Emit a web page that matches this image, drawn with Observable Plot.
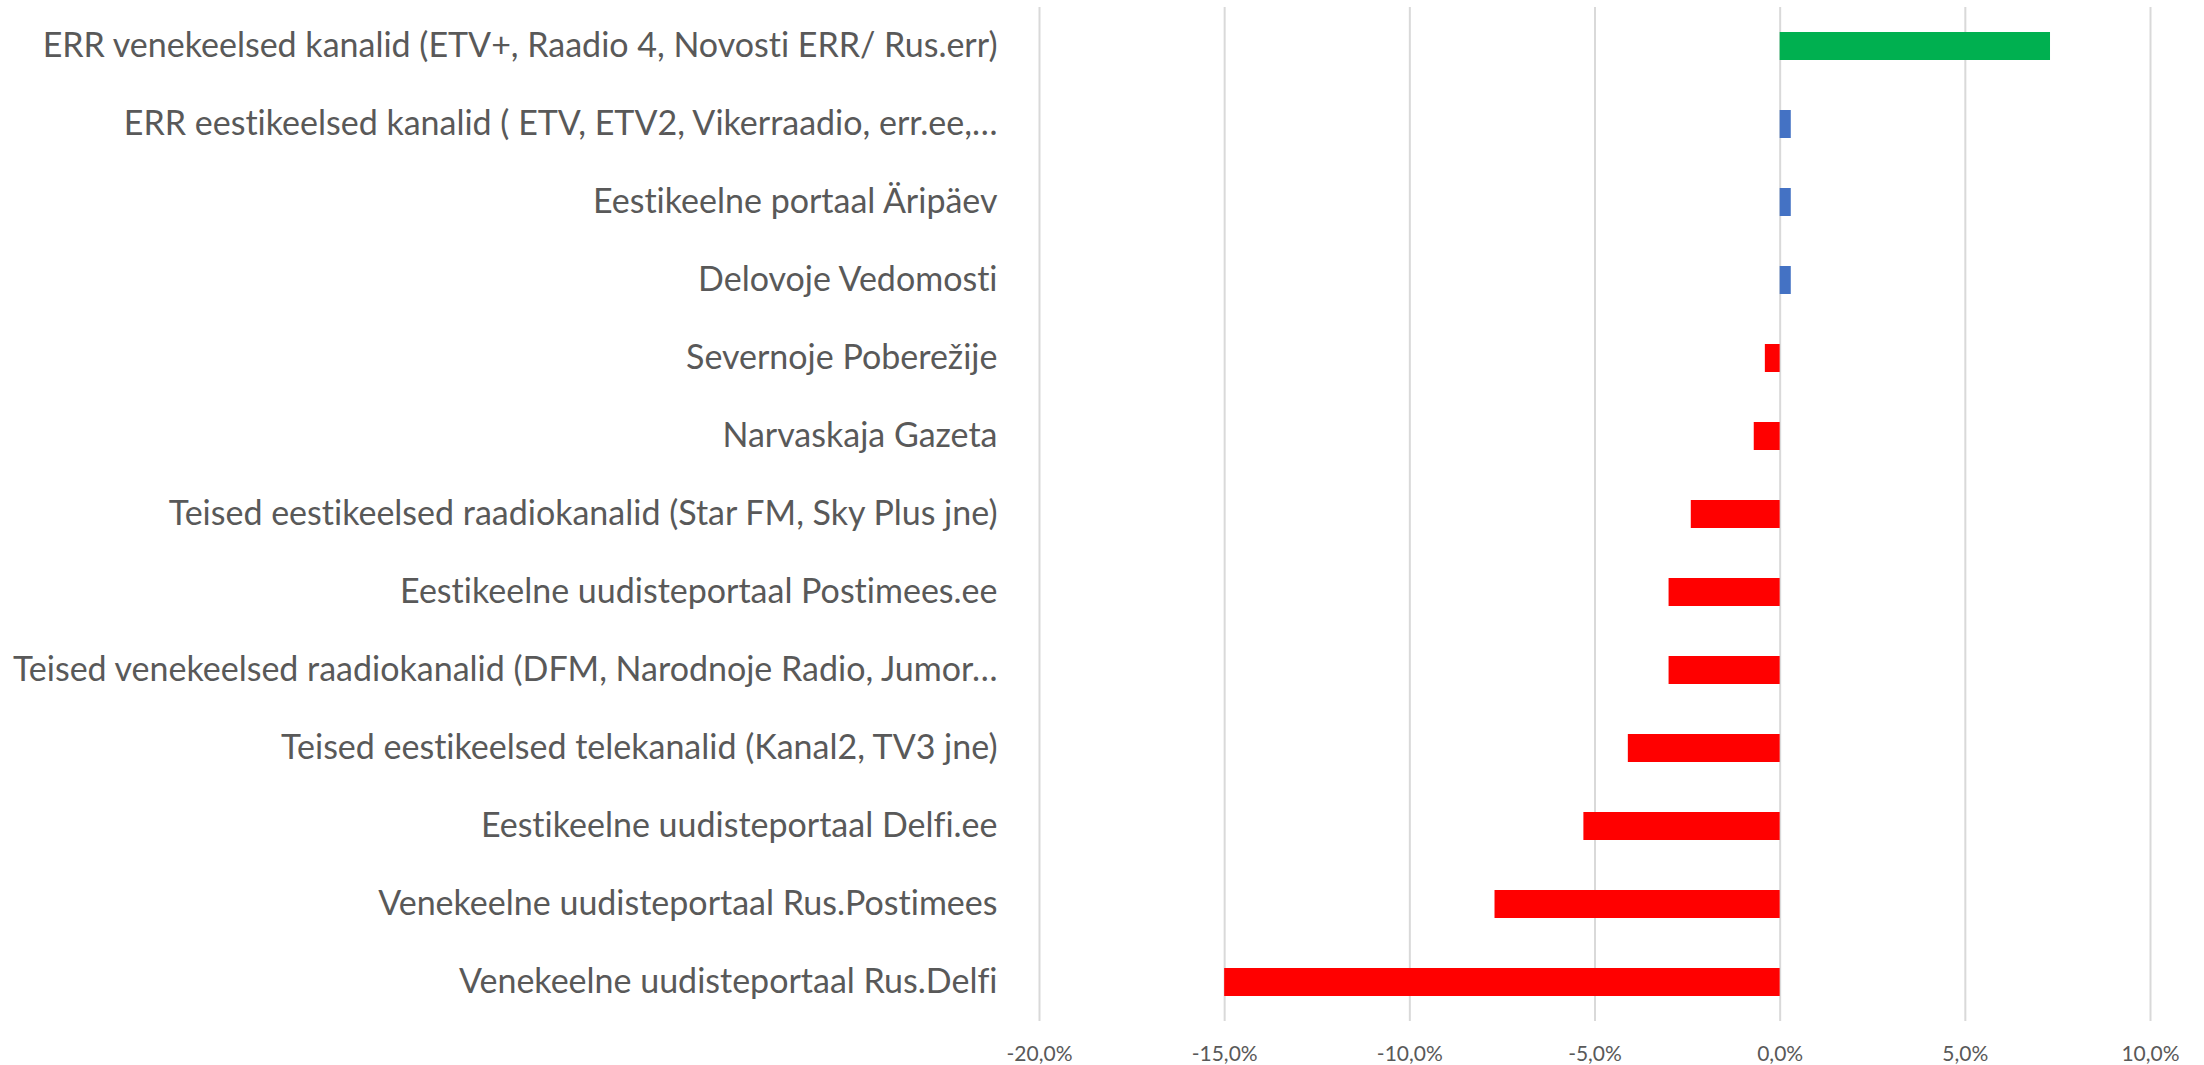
<!DOCTYPE html>
<html>
<head>
<meta charset="utf-8">
<script src="https://cdn.jsdelivr.net/npm/d3@7"></script>
<script src="https://cdn.jsdelivr.net/npm/@observablehq/plot@0.6"></script>
<style>
  html, body { margin: 0; padding: 0; background: #ffffff; }
  #chart svg { display: block; }
  #chart svg text { font-variant-ligatures: none; font-feature-settings: "liga" 0; }
</style>
</head>
<body>
<div id="chart"></div>
<script>
const categories = [
  "ERR venekeelsed kanalid (ETV+, Raadio 4, Novosti ERR/ Rus.err)",
  "ERR eestikeelsed kanalid ( ETV, ETV2, Vikerraadio, err.ee,…",
  "Eestikeelne portaal Äripäev",
  "Delovoje Vedomosti",
  "Severnoje Poberežije",
  "Narvaskaja Gazeta",
  "Teised eestikeelsed raadiokanalid (Star FM, Sky Plus jne)",
  "Eestikeelne uudisteportaal Postimees.ee",
  "Teised venekeelsed raadiokanalid (DFM, Narodnoje Radio, Jumor…",
  "Teised eestikeelsed telekanalid (Kanal2, TV3 jne)",
  "Eestikeelne uudisteportaal Delfi.ee",
  "Venekeelne uudisteportaal Rus.Postimees",
  "Venekeelne uudisteportaal Rus.Delfi"
];
const values = [7.3, 0.3, 0.3, 0.3, -0.4, -0.7, -2.4, -3.0, -3.0, -4.1, -5.3, -7.7, -15.0];
const groups = ["top", "pos", "pos", "pos", "neg", "neg", "neg", "neg", "neg", "neg", "neg", "neg", "neg"];
const xTicks = [-20, -15, -10, -5, 0, 5, 10];

const data = categories.map((c, i) => ({ category: c, value: values[i], group: groups[i] }));
const fmt = d => d.toFixed(1).replace(".", ",") + "%";

const chart = Plot.plot({
  width: 2204,
  height: 1065,
  marginTop: 7,
  marginBottom: 44,
  marginLeft: 1039,
  marginRight: 54,
  style: { fontFamily: "Lato, 'Open Sans', sans-serif", color: "#595959", background: "transparent" },
  x: { domain: [-20, 10], ticks: xTicks, tickFormat: fmt, label: null },
  y: { domain: categories, paddingInner: 0.64, paddingOuter: 0.32, label: null },
  color: { domain: ["top", "pos", "neg"], range: ["#00B050", "#4472C4", "#FF0000"] },
  marks: [
    Plot.gridX(xTicks, { stroke: "#d9d9d9", strokeOpacity: 1, strokeWidth: 2 }),
    Plot.barX(data, { x: "value", y: "category", fill: "group" }),
    Plot.axisX({ ticks: xTicks, tickFormat: fmt, tickSize: 0, tickPadding: 25, fontSize: 21, fill: "#595959" }),
    Plot.axisY({ tickSize: 0, tickPadding: 42, fontSize: 34, fill: "#595959" })
  ]
});
document.getElementById("chart").appendChild(chart);
</script>
</body>
</html>
